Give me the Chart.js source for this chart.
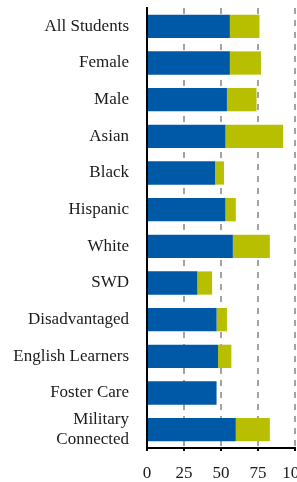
<!DOCTYPE html>
<html>
<head>
<meta charset="utf-8">
<script src="https://cdn.jsdelivr.net/npm/chart.js@4"></script>
<style>
  html, body { margin: 0; padding: 0; background: #fff; overflow: hidden; width: 297px; height: 482px; }
  canvas { display: block; }
</style>
</head>
<body>
<canvas id="groupChart" width="307" height="482" style="width:307px;height:482px"></canvas>
<script>
const groups = ["All Students", "Female", "Male", "Asian", "Black", "Hispanic", "White",
  "SWD", "Disadvantaged", "English Learners", "Foster Care", ["Military", "Connected"]];
const bluePart = [56, 56, 54, 53, 46, 53, 58, 34, 47, 48, 47, 60];
const greenPart = [20, 21, 20, 39, 6, 7, 25, 10, 7, 9, 0, 23];
const xTicks = [0, 25, 50, 75, 100];

const labelFont = { family: "'Liberation Serif', 'DejaVu Serif', serif", size: 17 };

const ctx = document.getElementById("groupChart").getContext("2d");

window.myChart = new Chart(ctx, {
  type: "bar",
  data: {
    labels: groups,
    datasets: [
      { label: "Blue", data: bluePart, backgroundColor: "#0059A6", barPercentage: 0.635, categoryPercentage: 1 },
      { label: "Green", data: greenPart, backgroundColor: "#B7BF00", barPercentage: 0.635, categoryPercentage: 1 }
    ]
  },
  options: {
    indexAxis: "y",
    responsive: false,
    animation: false,
    devicePixelRatio: 1,
    layout: { padding: { top: 8, right: 12, bottom: 0 } },
    plugins: { legend: { display: false }, tooltip: { enabled: false } },
    scales: {
      x: {
        stacked: true, min: 0, max: 100,
        afterBuildTicks: (scale) => { scale.ticks = xTicks.map(v => ({ value: v })); },
        afterFit: (scale) => {
          scale.height = 34;
          scale.paddingLeft = 0;
          scale.paddingRight = 0;
        },
        ticks: { color: "#1a1a1a", font: labelFont, padding: 12 },
        grid: {
          drawTicks: true,
          tickLength: 3,
          tickColor: "#000",
          lineWidth: 2,
          color: (c) => c.tick && c.tick.value === 0 ? "rgba(0,0,0,0)" : "#a3a3a3"
        },
        border: { display: true, color: "#000", width: 2, dash: [6, 6] }
      },
      y: {
        stacked: true,
        afterFit: (scale) => {
          scale.width = 147;
          scale.paddingTop = 0;
          scale.paddingBottom = 0;
        },
        ticks: { color: "#1a1a1a", font: labelFont, padding: 18, autoSkip: false },
        grid: { display: false, drawTicks: false },
        border: { display: true, color: "#000", width: 2 }
      }
    }
  }
});
</script>
</body>
</html>
